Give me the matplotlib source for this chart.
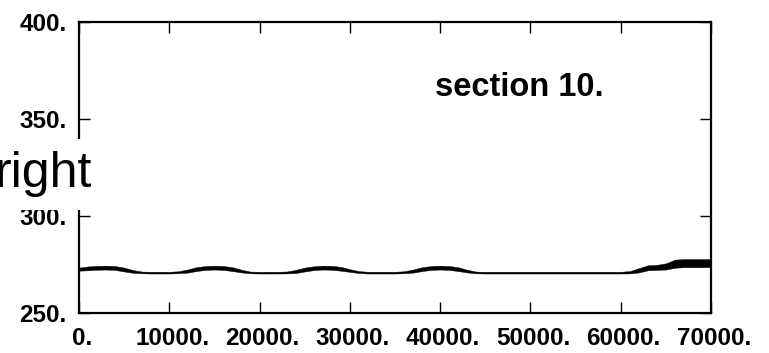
import numpy as np
import matplotlib
matplotlib.use("Agg")
import matplotlib.pyplot as plt
import matplotlib.transforms as mtransforms

# step position along the run (one sample every 1000)
steps = np.arange(0, 70001, 1000)

# mean value of the trace at each step
level = [
    272.6, 273.0, 273.3, 273.4, 273.2, 272.4, 271.4, 270.9, 270.8, 270.8,
    270.8, 271.0, 271.6, 272.6, 273.2, 273.4, 273.2, 272.6, 271.6, 270.9,
    270.8, 270.8, 270.8, 270.9, 271.4, 272.4, 273.1, 273.4, 273.3, 272.8,
    271.9, 271.1, 270.8, 270.8, 270.8, 270.8, 271.0, 271.6, 272.6, 273.2,
    273.4, 273.2, 272.6, 271.6, 270.9, 270.8, 270.8, 270.8, 270.8, 270.8,
    270.8, 270.8, 270.8, 270.8, 270.8, 270.8, 270.8, 270.8, 270.8, 270.8,
    270.8, 271.0, 272.0, 273.3, 273.5, 274.0, 275.4, 275.7, 275.7, 275.7,
    275.7,
]

# half height of the fluctuation band at each step
spread = [
    0.8, 1.0, 1.0, 1.0, 1.0, 1.0, 0.7, 0.45, 0.45, 0.45,
    0.45, 0.5, 0.8, 1.0, 1.0, 1.0, 1.0, 1.0, 0.7, 0.45,
    0.45, 0.45, 0.45, 0.5, 0.8, 1.0, 1.0, 1.0, 1.0, 1.0,
    0.7, 0.5, 0.45, 0.45, 0.45, 0.45, 0.5, 0.8, 1.0, 1.0,
    1.0, 1.0, 1.0, 0.7, 0.45, 0.45, 0.45, 0.45, 0.45, 0.45,
    0.45, 0.45, 0.45, 0.45, 0.45, 0.45, 0.45, 0.45, 0.45, 0.45,
    0.45, 0.6, 1.1, 1.3, 1.3, 1.6, 2.1, 2.1, 2.1, 2.1,
    2.1,
]

x_ticks = [0, 10000, 20000, 30000, 40000, 50000, 60000, 70000]
x_labels = ["0.", "10000.", "20000.", "30000.", "40000.", "50000.", "60000.", "70000."]
y_ticks = [250, 300, 350, 400]
y_labels = ["250.", "300.", "350.", "400."]

plt.rcParams["font.family"] = ["Liberation Sans", "DejaVu Sans"]

fig = plt.figure(figsize=(7.69, 3.53), dpi=100)
ax = fig.add_axes([79 / 769, 40 / 353, 632 / 769, 291 / 353])

lo = np.array(level) - np.array(spread)
hi = np.array(level) + np.array(spread)
ax.fill_between(steps, lo, hi, color="black", linewidth=0.3, edgecolor="black")

ax.set_xlim(0, 70000)
ax.set_ylim(250, 400)

ax.set_xticks(x_ticks)
ax.set_xticklabels(x_labels, fontsize=17.5, fontweight="bold")
ax.set_yticks(y_ticks)
ax.set_yticklabels(y_labels, fontsize=17.5, fontweight="bold")
ax.tick_params(axis="both", direction="in", length=8, width=1.0,
               top=True, right=True, color="black")
ax.tick_params(axis="x", pad=10)
ax.tick_params(axis="y", pad=9)

# nudge the bottom labels slightly to the right
shift = mtransforms.ScaledTranslation(3 / 100, 0, fig.dpi_scale_trans)
for lab in ax.get_xticklabels():
    lab.set_transform(lab.get_transform() + shift)

for spine in ax.spines.values():
    spine.set_linewidth(1.6)
    spine.set_color("black")

ax.text(0.563, 0.746, "section 10.", transform=ax.transAxes, fontsize=23.5,
        fontweight="bold", ha="left", va="baseline")

# axis name drawn over the left frame on a white box
fig.text(92 / 769, 1 - 187 / 353, "right", fontsize=36, ha="right", va="baseline",
         bbox=dict(facecolor="white", edgecolor="none", pad=9))

fig.savefig("out.png", dpi=100)
